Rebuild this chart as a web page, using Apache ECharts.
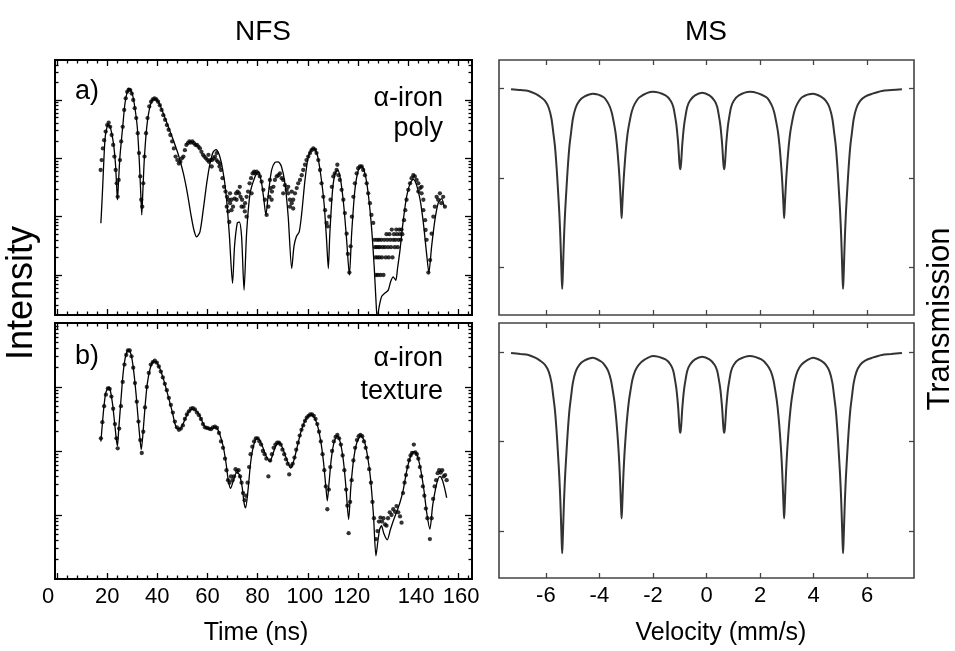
<!DOCTYPE html>
<html><head><meta charset="utf-8">
<script src="https://cdn.jsdelivr.net/npm/echarts@6/dist/echarts.min.js"></script>
<style>html,body{margin:0;padding:0;background:#fff}#c{width:955px;height:651px}</style>
</head><body><div id="c"></div>
<script>
// ---------- tick values ----------
const timeMajorTicks = [0,20,40,60,80,100,120,140,160];
const timeMinorTicks = [4,8,12,16,24,28,32,36,44,48,52,56,64,68,72,76,84,88,92,96,104,108,112,116,124,128,132,136,144,148,152,156,164];
const velocityTicks = [-6,-4,-2,0,2,4,6];
const transmissionTicks = [0.8,0.9,1.0];
const intensityMajorPoly = [10,100,1000,10000];
const intensityMinorPoly = [3,4,5,6,7,8,9,20,30,40,50,60,70,80,90,200,300,400,500,600,700,800,900,2000,3000,4000,5000,6000,7000,8000,9000,20000,30000,40000];
const intensityMajorTexture = [10,100,1000];
const intensityMinorTexture = [2,3,4,5,6,7,8,9,20,30,40,50,60,70,80,90,200,300,400,500,600,700,800,900,2000,3000,4000,5000,6000,7000,8000,9000];

// ---------- NFS a) alpha-iron poly : measured points [time ns, counts] ----------
const nfsPolyDots = [
[17.4,631],[17.8,933],[18.3,1480],[18.8,2040],[19.4,2880],[20.0,3720],[20.6,4070],[21.2,3470],[21.8,2510],[22.4,1700],[22.9,1070],[23.4,631],[23.8,372],[24.2,219],[24.6,427],[25.1,933],[25.6,1950],[26.2,3470],[26.8,6760],[27.4,10700],[28.0,13800],[28.6,15100],[29.2,14800],[29.8,12900],[30.4,10000],[31.0,7240],[31.6,4900],[32.2,2690],[32.7,1230],[33.2,490],[33.6,195],[34.0,148],[34.4,372],[34.9,1070],[35.5,2690],[36.1,4900],[36.8,7760],[37.5,9330],[38.2,10200],[38.9,10700],[39.6,10200],[40.3,9330],[41.0,8130],[41.7,6760],[42.4,5500],[43.1,4570],[43.8,3720],[44.5,3090],[45.2,2510],[45.9,1950],[46.6,1480],[47.3,1070],[48.0,933],[48.6,813],[49.2,871],[49.8,1000],[50.4,1070],[51.0,1380],[51.6,1700],[52.2,1820],[52.8,1950],[53.4,1860],[54.0,1950],[54.6,1820],[55.2,1700],[55.8,1700],[56.4,1580],[57.0,1480],[57.6,1290],[58.2,1150],[58.8,1070],[59.4,1000],[60.0,933],[60.6,871],[61.2,933],[61.8,933],[62.4,1000],[63.0,1070],[63.6,933],[64.2,871],[64.8,724],[65.4,631],[66.0,457],[66.6,324],[67.2,269],[67.8,219],[68.4,195],[69.0,170],[69.6,195],[70.2,148],[70.8,204],[71.4,251],[72.0,269],[72.6,251],[73.2,219],[73.8,195],[74.4,148],[75.0,170],[75.6,219],[76.2,269],[76.8,372],[77.4,457],[78.0,550],[78.6,589],
[67.7,148],[68.3,123],[69.0,251],[69.6,129],[71.6,195],[72.9,324],[73.6,148],[74.9,123],[75.6,100],[68.7,81],[60.4,1150],[61.7,724],[63.7,1230],[65.0,813],[77.6,251],
[78.9,550],[79.6,589],[80.3,550],[80.9,490],[81.6,398],[82.3,288],[82.9,195],[83.6,107],[84.3,148],[84.7,219],[85.2,309],[85.7,269],[86.3,324],[86.9,427],[87.6,490],[88.3,513],[88.9,550],[89.6,457],[90.2,427],[90.9,347],[91.6,288],[92.2,251],[92.9,195],[93.6,170],[94.2,195],[94.9,251],[95.6,309],[96.2,372],[96.9,427],[97.6,513],[98.2,631],[98.9,776],[99.5,933],[100.2,1070],[100.9,1230],[101.5,1380],[102.2,1480],[102.9,1410],[103.5,1230],[104.2,933],[104.9,631],[105.5,372],[106.2,219],[106.9,129],[107.5,78],[108.0,68],[108.6,100],[109.1,195],[109.6,324],[110.2,490],[110.8,550],[111.5,631],[111.8,776],[112.3,513],[112.8,427],[113.5,288],[114.2,195],[114.8,115],[115.5,51],[116.0,23],[116.6,11],[117.1,31],[117.6,100],[118.2,219],[118.8,372],[119.5,550],[120.1,676],[120.8,724],[121.5,724],[122.1,631],[122.8,513],[123.5,372],[124.1,251],[124.8,170],[125.4,107],[126.1,78],
[126.6,40],[126.8,30],[127.0,20],[127.2,10],[127.4,30],[127.6,40],[127.8,20],[128.0,10],[128.2,30],[128.4,40],[128.6,20],[128.8,30],[129.0,10],[129.3,40],[129.6,20],[129.9,30],[130.2,10],[130.5,40],[130.8,30],[131.1,20],[131.4,50],[131.7,40],[132.0,30],[132.3,20],[132.6,50],[132.9,40],[133.2,30],[133.5,60],[133.8,20],[134.1,40],[134.4,50],[134.7,30],[135.0,40],[135.3,60],[135.6,50],[135.9,30],[136.2,40],[136.5,60],[136.8,50],[137.1,40],[137.4,60],[137.7,50],
[138.4,87],[138.9,129],[139.4,195],[140.1,288],[140.8,372],[141.4,457],[142.1,513],[142.7,490],[143.4,427],[144.1,372],[144.8,309],[145.4,251],[146.1,195],[146.8,87],[147.4,40],[148.1,11],[148.8,18],[149.4,51],[150.1,100],[150.7,148],[151.4,219],[152.0,195],[152.7,251],[153.3,170],[154.0,219],[154.7,148],
[144.1,269],[145.4,324],[146.1,129],[147.0,59],[84.9,427],[85.6,195],[90.2,251],[92.9,148],[93.6,269],[94.2,138],[92.2,324]
];
// fit curve a)
const nfsPolyFit = [
[17.5,77],[18.1,251],[19.1,2040],[19.8,3240],[20.5,3800],[21.4,3240],[22.5,1820],[23.3,813],[23.8,324],[24.1,195],[24.5,372],[25.1,1070],[26.2,3470],[27.1,8710],[28.0,13800],[28.8,15800],[29.8,13800],[30.8,8710],[32.0,3470],[32.8,933],[33.4,251],[33.8,107],[34.2,251],[34.8,933],[35.8,3470],[37.1,7760],[38.4,10200],[39.5,10200],[40.8,8710],[42.4,5890],[44.4,3470],[46.4,2040],[48.4,1150],[50.4,550],[52.0,251],[53.3,115],[54.6,59],[55.7,45],[57.0,55],[58.3,129],[59.7,372],[61.0,813],[62.3,1290],[63.4,1410],[64.7,1150],[66.1,631],[67.4,251],[68.7,51],[70.0,7.2],[70.8,31],[71.9,78],[72.7,81],[73.6,46],[74.6,5.5],[75.6,51],[77.0,251],[79.0,490],[80.3,589],[81.6,372],[82.5,195],[83.3,107],[84.3,251],[85.6,631],[86.9,851],[88.2,871],[89.5,724],[90.9,372],[92.2,100],[93.6,12.9],[94.5,31],[95.5,46],[96.6,55],[97.6,115],[98.9,427],[100.2,1070],[101.5,1410],[102.5,1480],[103.8,1150],[105.1,550],[106.5,170],[107.5,40],[108.2,12.9],[108.8,51],[109.9,288],[110.9,550],[111.9,631],[113.1,427],[114.4,148],[115.5,40],[116.6,10],[117.5,51],[118.8,288],[120.2,631],[121.5,724],[122.8,550],[124.1,251],[125.4,68],[126.5,13.8],[127.2,3.7],[127.7,1.8],[128.5,2.9],[129.5,4.3],[130.8,4.9],[132.1,5.5],[133.1,7.8],[134.1,9.3],[135.1,8.1],[135.8,12.9],[136.8,27],[138.1,87],[139.4,219],[140.8,372],[142.1,437],[143.4,347],[144.8,195],[146.1,78],[147.4,23],[148.3,11],[149.4,31],[150.7,87],[152.0,170],[153.4,204],[154.4,148]
];

// ---------- NFS b) alpha-iron texture ----------
const nfsTextureDots = [
[17.5,158],[18.1,282],[18.8,501],[19.5,759],[20.3,955],[21.0,933],[21.7,708],[22.4,457],[23.1,263],[23.7,158],[24.2,110],[24.8,224],[25.5,501],[26.2,1200],[26.9,2240],[27.6,3160],[28.3,3720],[29.0,3720],[29.7,3020],[30.4,2000],[31.1,1150],[31.8,589],[32.5,288],[33.2,148],[33.8,93],[34.4,200],[35.1,479],[35.8,1000],[36.6,1660],[37.4,2240],[38.2,2450],[39.0,2570],[39.8,2400],[40.6,2090],[41.4,1740],[42.2,1410],[43.0,1120],[43.8,891],[44.6,676],[45.4,525],[46.2,398],[47.0,288],[47.8,234],[48.6,214],[49.4,224],[50.2,251],[51.0,316],[51.8,372],[52.6,417],[53.4,457],[54.2,468],[55.0,447],[55.8,398],[56.6,363],[57.4,316],[58.2,263],[59.0,234],[59.8,229],[60.6,224],[61.4,219],[62.2,234],[63.0,240],[63.8,229],[64.6,191],[65.4,141],[66.2,112],[67.0,76],[67.6,50],[68.2,35],[68.8,32],[69.4,40],[70.0,35],[70.6,40],[71.2,52],[71.8,48],[72.4,50],[73.0,40],[73.6,32],[74.2,22],[74.8,17],[75.4,20],[76.0,32],[76.6,56],[77.2,89],[77.9,117],[78.6,141],[79.3,158],[80.0,158],[80.7,141],[81.4,126],[82.1,100],[82.8,89],[83.5,76],[84.3,40],[85.0,71],[85.7,89],[86.4,112],[87.1,126],[87.8,135],[88.5,135],[89.2,126],[89.9,105],[90.6,89],[91.3,74],[92.0,63],[92.6,43],[93.3,58],[94.0,63],[94.7,79],[95.4,105],[96.1,135],[96.8,174],[97.5,214],[98.2,251],[98.9,295],[99.6,331],[100.3,355],[101.0,372],[101.7,372],[102.4,355],[103.1,316],[103.8,263],[104.5,200],[105.2,141],[105.9,89],[106.6,50],[107.2,28],[107.8,12.3],[108.4,25],[109.0,56],[109.7,100],[110.4,141],[111.1,166],[111.8,178],[112.5,158],[113.2,126],[113.9,85],[114.6,50],[115.3,25],[115.8,14],[116.3,5.2],[116.9,16],[117.5,35],[118.2,71],[118.9,112],[119.6,148],[120.3,170],[121.0,178],[121.7,170],[122.4,141],[123.1,112],[123.8,79],[124.5,52],[125.2,32],[125.8,16],[126.4,8.9],[127.2,4.2],[127.8,5.6],[128.4,7.9],[129.0,9.1],[129.6,7.9],[130.2,8.9],[130.8,7.1],[131.4,6.8],[132.0,8.9],[132.7,11],[133.4,10],[134.1,12.3],[134.8,11.2],[135.4,13.8],[136.1,11],[136.8,9.5],[137.4,7.6],[138.0,22],[138.6,32],[139.2,42],[139.8,56],[140.4,72],[141.0,85],[141.6,93],[142.3,126],[142.9,95],[143.5,89],[144.1,76],[144.7,56],[145.3,40],[145.9,28],[146.5,20],[147.1,12.6],[147.7,8.9],[148.7,4.2],[149.4,8.9],[150.0,17.8],[150.6,28],[151.2,35],[151.8,45],[152.4,50],[153.0,46],[153.6,50],[154.2,40],[154.8,42],[155.4,35]
];
const nfsTextureFit = [
[17.5,141],[18.1,269],[18.7,490],[19.4,794],[20.2,955],[20.8,1000],[21.4,832],[22.2,525],[23.0,269],[23.7,148],[24.1,120],[24.6,214],[25.3,490],[26.1,1260],[26.8,2290],[27.6,3310],[28.4,3720],[29.1,3630],[29.9,2750],[30.7,1620],[31.5,794],[32.3,339],[33.0,166],[33.6,105],[34.3,191],[35.1,490],[36.0,1120],[37.1,1910],[38.1,2450],[39.1,2510],[40.0,2340],[41.1,1910],[42.4,1350],[43.7,891],[45.1,550],[46.1,389],[47.0,269],[48.0,224],[49.0,224],[50.1,257],[51.2,324],[52.4,407],[53.7,447],[55.0,437],[56.4,389],[57.7,302],[59.0,240],[60.3,224],[61.7,224],[63.0,234],[63.9,224],[65.0,178],[66.3,117],[67.4,65],[68.3,35],[69.2,26],[70.3,34],[71.6,46],[72.7,43],[73.8,28],[74.6,15.5],[75.2,12.9],[76.2,25],[77.2,65],[78.3,117],[79.6,158],[80.8,148],[82.0,117],[83.3,85],[84.9,69],[86.3,95],[87.5,126],[88.7,135],[90.0,110],[91.5,76],[93.2,54],[94.5,72],[96.0,126],[97.5,214],[99.0,302],[100.3,355],[101.5,363],[102.7,331],[104.0,240],[105.2,141],[106.3,66],[107.2,28],[107.8,16.6],[108.5,32],[109.4,76],[110.5,138],[111.8,174],[113.0,135],[114.2,71],[115.2,28],[116.3,8.5],[117.2,28],[118.3,74],[119.5,132],[121.2,174],[122.6,141],[123.8,85],[125.0,38],[126.2,10],[127.2,2.3],[128.0,4.0],[128.7,6.0],[129.4,6.8],[130.3,5.2],[131.7,4.1],[133.0,6.0],[134.2,8.3],[135.4,11],[136.8,15.8],[138.1,25],[139.5,50],[141.0,83],[142.3,98],[143.6,87],[145.0,52],[146.3,25],[147.5,10.5],[148.7,6.0],[149.8,14],[151.0,26],[152.0,37],[152.7,40],[153.7,35],[154.6,26],[155.4,18.6]
];

// ---------- MS spectra [velocity mm/s, relative transmission] ----------
const msPolyCurve = [
[-7.30,0.9989],[-6.95,0.998],[-6.65,0.997],[-6.40,0.994],
[-6.23,0.991],[-6.03,0.986],[-5.89,0.978],[-5.79,0.966],[-5.72,0.950],[-5.66,0.935],[-5.60,0.912],[-5.55,0.888],[-5.50,0.862],[-5.46,0.835],[-5.43,0.808],[-5.41,0.789],[-5.39,0.776],[-5.37,0.789],[-5.35,0.808],[-5.32,0.835],[-5.28,0.862],[-5.23,0.888],[-5.18,0.912],[-5.12,0.935],[-5.06,0.950],[-4.99,0.966],[-4.89,0.978],[-4.75,0.986],[-4.55,0.991],[-4.25,0.994],
[-3.84,0.990],[-3.65,0.982],[-3.55,0.974],[-3.47,0.963],[-3.40,0.951],[-3.34,0.935],[-3.29,0.917],[-3.25,0.900],[-3.22,0.884],[-3.19,0.866],[-3.17,0.855],[-3.15,0.866],[-3.12,0.884],[-3.09,0.900],[-3.05,0.917],[-3.00,0.935],[-2.94,0.951],[-2.87,0.963],[-2.79,0.974],[-2.69,0.982],[-2.50,0.990],
[-2.00,0.996],
[-1.53,0.992],[-1.34,0.986],[-1.24,0.979],[-1.17,0.968],[-1.12,0.958],[-1.08,0.946],[-1.05,0.935],[-1.02,0.920],[-1.00,0.913],[-0.98,0.9095],[-0.96,0.913],[-0.94,0.920],[-0.91,0.935],[-0.88,0.946],[-0.84,0.958],[-0.79,0.968],[-0.72,0.979],[-0.62,0.986],[-0.43,0.992],[-0.16,0.995],
[0.11,0.992],[0.30,0.986],[0.40,0.979],[0.47,0.968],[0.52,0.958],[0.56,0.946],[0.59,0.935],[0.62,0.920],[0.64,0.913],[0.66,0.9095],[0.68,0.913],[0.70,0.920],[0.73,0.935],[0.76,0.946],[0.80,0.958],[0.85,0.968],[0.92,0.979],[1.02,0.986],[1.21,0.992],[1.62,0.996],
[2.23,0.990],[2.42,0.982],[2.52,0.974],[2.60,0.963],[2.67,0.951],[2.73,0.935],[2.78,0.917],[2.82,0.900],[2.85,0.884],[2.88,0.866],[2.90,0.855],[2.92,0.866],[2.95,0.884],[2.98,0.900],[3.02,0.917],[3.07,0.935],[3.13,0.951],[3.20,0.963],[3.28,0.974],[3.38,0.982],[3.57,0.990],
[3.98,0.994],
[4.26,0.991],[4.46,0.986],[4.60,0.978],[4.70,0.966],[4.77,0.950],[4.83,0.935],[4.89,0.912],[4.94,0.888],[4.99,0.862],[5.03,0.835],[5.06,0.808],[5.08,0.789],[5.10,0.776],[5.12,0.789],[5.14,0.808],[5.17,0.835],[5.21,0.862],[5.26,0.888],[5.31,0.912],[5.37,0.935],[5.43,0.950],[5.50,0.966],[5.60,0.978],[5.74,0.986],[5.94,0.991],[6.20,0.994],[6.55,0.997],[6.90,0.998],[7.30,0.9989]
];
const msTextureCurve = [
[-7.30,0.9993],[-6.95,0.998],[-6.65,0.997],[-6.40,0.994],
[-6.23,0.991],[-6.03,0.986],[-5.89,0.978],[-5.79,0.966],[-5.72,0.950],[-5.66,0.935],[-5.60,0.912],[-5.55,0.888],[-5.50,0.862],[-5.46,0.835],[-5.43,0.808],[-5.41,0.789],[-5.39,0.775],[-5.37,0.789],[-5.35,0.808],[-5.32,0.835],[-5.28,0.862],[-5.23,0.888],[-5.18,0.912],[-5.12,0.935],[-5.06,0.950],[-4.99,0.966],[-4.89,0.978],[-4.75,0.986],[-4.55,0.991],[-4.25,0.994],
[-3.95,0.990],[-3.81,0.986],[-3.67,0.979],[-3.57,0.969],[-3.50,0.957],[-3.44,0.945],[-3.38,0.928],[-3.33,0.910],[-3.28,0.888],[-3.24,0.865],[-3.21,0.842],[-3.19,0.826],[-3.17,0.814],[-3.15,0.826],[-3.13,0.842],[-3.10,0.865],[-3.06,0.888],[-3.01,0.910],[-2.96,0.928],[-2.90,0.945],[-2.84,0.957],[-2.77,0.969],[-2.67,0.979],[-2.53,0.986],[-2.30,0.992],
[-2.00,0.996],
[-1.53,0.992],[-1.34,0.986],[-1.24,0.979],[-1.17,0.968],[-1.12,0.958],[-1.08,0.946],[-1.05,0.935],[-1.02,0.920],[-1.00,0.913],[-0.98,0.910],[-0.96,0.913],[-0.94,0.920],[-0.91,0.935],[-0.88,0.946],[-0.84,0.958],[-0.79,0.968],[-0.72,0.979],[-0.62,0.986],[-0.43,0.992],[-0.16,0.995],
[0.11,0.992],[0.30,0.986],[0.40,0.979],[0.47,0.968],[0.52,0.958],[0.56,0.946],[0.59,0.935],[0.62,0.920],[0.64,0.913],[0.66,0.910],[0.68,0.913],[0.70,0.920],[0.73,0.935],[0.76,0.946],[0.80,0.958],[0.85,0.968],[0.92,0.979],[1.02,0.986],[1.21,0.992],[1.62,0.996],
[2.05,0.992],[2.26,0.986],[2.40,0.979],[2.50,0.969],[2.57,0.957],[2.63,0.945],[2.69,0.928],[2.74,0.910],[2.79,0.888],[2.83,0.865],[2.86,0.842],[2.88,0.826],[2.90,0.814],[2.92,0.826],[2.94,0.842],[2.97,0.865],[3.01,0.888],[3.06,0.910],[3.11,0.928],[3.17,0.945],[3.23,0.957],[3.30,0.969],[3.40,0.979],[3.54,0.986],[3.75,0.991],
[3.98,0.994],
[4.26,0.991],[4.46,0.986],[4.60,0.978],[4.70,0.966],[4.77,0.950],[4.83,0.935],[4.89,0.912],[4.94,0.888],[4.99,0.862],[5.03,0.835],[5.06,0.808],[5.08,0.789],[5.10,0.775],[5.12,0.789],[5.14,0.808],[5.17,0.835],[5.21,0.862],[5.26,0.888],[5.31,0.912],[5.37,0.935],[5.43,0.950],[5.50,0.966],[5.60,0.978],[5.74,0.986],[5.94,0.991],[6.20,0.994],[6.55,0.997],[6.90,0.998],[7.30,0.9993]
];

// ---------- chart ----------
const FONT = '"Liberation Sans", Arial, Helvetica, sans-serif';
const chart = echarts.init(document.getElementById('c'), null, {renderer: 'canvas'});

const R = {
  tl: {left: 55, top: 60, width: 417, height: 255},
  bl: {left: 55, top: 323, width: 417, height: 256},
  tr: {left: 499, top: 60, width: 415, height: 255},
  br: {left: 499, top: 323, width: 415, height: 255}
};
function mkGrid(r, show, color, bw) {
  return {left: r.left, top: r.top, width: r.width, height: r.height, show: show,
    borderColor: color, borderWidth: bw, backgroundColor: 'rgba(0,0,0,0)',
    containLabel: false, outerBoundsMode: 'none'};
}
// horizontal nudges (px) of individual time labels, as placed in the original figure
const timeLabelNudge = {0: -9, 100: -3, 120: -6, 140: 8, 160: 3};
const labelRich = {};
[-9, -6, -3, 0, 3, 8].forEach(function (d) {
  labelRich['s' + (d < 0 ? 'm' + (-d) : 'p' + d)] = {
    fontSize: 22, fontFamily: FONT, color: '#000',
    padding: d < 0 ? [0, -2 * d, 0, 0] : [0, 0, 0, 2 * d]
  };
});
function mkAxis(gi, pos, type, min, max, ticks, len, color, labels, nudge) {
  const ax = {type: type, gridIndex: gi, position: pos, min: min, max: max,
    axisLine: {show: false, onZero: false},
    splitLine: {show: false}, minorTick: {show: false},
    axisTick: {show: true, inside: true, length: len, customValues: ticks,
      lineStyle: {color: color, width: 1.3}},
    axisLabel: {show: false}
  };
  if (type === 'log') ax.logBase = 10;
  if (labels) {
    ax.axisLabel = {show: true, customValues: labels, fontSize: 22, fontFamily: FONT,
      color: '#000', margin: 7};
    if (nudge) {
      ax.axisLabel.rich = labelRich;
      ax.axisLabel.formatter = function (v) {
        const d = nudge[v] || 0;
        return '{s' + (d < 0 ? 'm' + (-d) : 'p' + d) + '|' + v + '}';
      };
    }
  }
  return ax;
}
const tMin = -0.8, tMax = 165.5;
const vMin = -7.75, vMax = 7.75;
const polyMin = 2.06, polyMax = 48500;
const texMin = 1, texMax = 10000;
const trTop = [0.7467, 1.0316], trBot = [0.7474, 1.0328];
const K = '#000', Gc = '#444';

const xAxes = [
  mkAxis(0, 'bottom', 'value', tMin, tMax, timeMajorTicks, 6, K),
  mkAxis(0, 'top', 'value', tMin, tMax, timeMajorTicks, 6, K),
  mkAxis(1, 'bottom', 'value', tMin, tMax, timeMinorTicks, 3.5, K),
  mkAxis(1, 'top', 'value', tMin, tMax, timeMinorTicks, 3.5, K),
  mkAxis(2, 'bottom', 'value', tMin, tMax, timeMajorTicks, 6, K, timeMajorTicks, timeLabelNudge),
  mkAxis(2, 'top', 'value', tMin, tMax, timeMajorTicks, 6, K),
  mkAxis(3, 'bottom', 'value', tMin, tMax, timeMinorTicks, 3.5, K),
  mkAxis(3, 'top', 'value', tMin, tMax, timeMinorTicks, 3.5, K),
  mkAxis(4, 'bottom', 'value', vMin, vMax, velocityTicks, 5, Gc),
  mkAxis(4, 'top', 'value', vMin, vMax, velocityTicks, 5, Gc),
  mkAxis(5, 'bottom', 'value', vMin, vMax, velocityTicks, 5, Gc, velocityTicks),
  mkAxis(5, 'top', 'value', vMin, vMax, velocityTicks, 5, Gc)
];
const yAxes = [
  mkAxis(0, 'left', 'log', polyMin, polyMax, intensityMajorPoly, 7, K),
  mkAxis(0, 'right', 'log', polyMin, polyMax, intensityMajorPoly, 7, K),
  mkAxis(1, 'left', 'log', polyMin, polyMax, intensityMinorPoly, 3.5, K),
  mkAxis(1, 'right', 'log', polyMin, polyMax, intensityMinorPoly, 3.5, K),
  mkAxis(2, 'left', 'log', texMin, texMax, intensityMajorTexture, 7, K),
  mkAxis(2, 'right', 'log', texMin, texMax, intensityMajorTexture, 7, K),
  mkAxis(3, 'left', 'log', texMin, texMax, intensityMinorTexture, 3.5, K),
  mkAxis(3, 'right', 'log', texMin, texMax, intensityMinorTexture, 3.5, K),
  mkAxis(4, 'left', 'value', trTop[0], trTop[1], transmissionTicks, 5, Gc),
  mkAxis(4, 'right', 'value', trTop[0], trTop[1], transmissionTicks, 5, Gc),
  mkAxis(5, 'left', 'value', trBot[0], trBot[1], transmissionTicks, 5, Gc),
  mkAxis(5, 'right', 'value', trBot[0], trBot[1], transmissionTicks, 5, Gc)
];

function txt(x, y, s, size, align, rot) {
  return {type: 'text', x: x, y: y, rotation: rot || 0, silent: true, z: 10,
    style: {text: s, fontSize: size, fontFamily: FONT, fill: '#000',
      align: align, textAlign: align, verticalAlign: 'middle', textVerticalAlign: 'middle'}};
}

const option = {
  animation: false,
  backgroundColor: '#fff',
  grid: [
    mkGrid(R.tl, true, '#000', 2), mkGrid(R.tl, false, '#000', 0),
    mkGrid(R.bl, true, '#000', 2), mkGrid(R.bl, false, '#000', 0),
    mkGrid(R.tr, true, Gc, 1.6), mkGrid(R.br, true, Gc, 1.6)
  ],
  xAxis: xAxes,
  yAxis: yAxes,
  series: [
    {type: 'line', xAxisIndex: 0, yAxisIndex: 0, data: nfsPolyFit, showSymbol: false, symbol: 'none',
      smooth: 0.25, clip: true, lineStyle: {color: '#000', width: 1.3}, silent: true},
    {type: 'scatter', xAxisIndex: 0, yAxisIndex: 0, data: nfsPolyDots, symbol: 'circle', symbolSize: 4.3,
      clip: true, itemStyle: {color: '#000'}, silent: true},
    {type: 'line', xAxisIndex: 4, yAxisIndex: 4, data: nfsTextureFit, showSymbol: false, symbol: 'none',
      smooth: 0.25, clip: true, lineStyle: {color: '#000', width: 1.3}, silent: true},
    {type: 'scatter', xAxisIndex: 4, yAxisIndex: 4, data: nfsTextureDots, symbol: 'circle', symbolSize: 4.3,
      clip: true, itemStyle: {color: '#000'}, silent: true},
    {type: 'line', xAxisIndex: 8, yAxisIndex: 8, data: msPolyCurve, showSymbol: false, symbol: 'none',
      smooth: 0.3, clip: true, lineStyle: {color: '#333', width: 2}, silent: true},
    {type: 'line', xAxisIndex: 10, yAxisIndex: 10, data: msTextureCurve, showSymbol: false, symbol: 'none',
      smooth: 0.3, clip: true, lineStyle: {color: '#333', width: 2}, silent: true}
  ],
  graphic: [
    txt(263, 32, 'NFS', 28, 'center'),
    txt(706, 32, 'MS', 28, 'center'),
    txt(256, 633, 'Time (ns)', 25, 'center'),
    txt(721, 633, 'Velocity (mm/s)', 25, 'center'),
    txt(22, 293, 'Intensity', 36, 'center', Math.PI / 2),
    txt(940, 319, 'Transmission', 31, 'center', Math.PI / 2),
    txt(75, 92, 'a)', 27, 'left'),
    txt(443, 99, 'α-iron', 27, 'right'),
    txt(443, 129, 'poly', 27, 'right'),
    txt(75, 357, 'b)', 27, 'left'),
    txt(443, 359, 'α-iron', 27, 'right'),
    txt(443, 392, 'texture', 27, 'right')
  ]
};
chart.setOption(option);
</script>
</body></html>
